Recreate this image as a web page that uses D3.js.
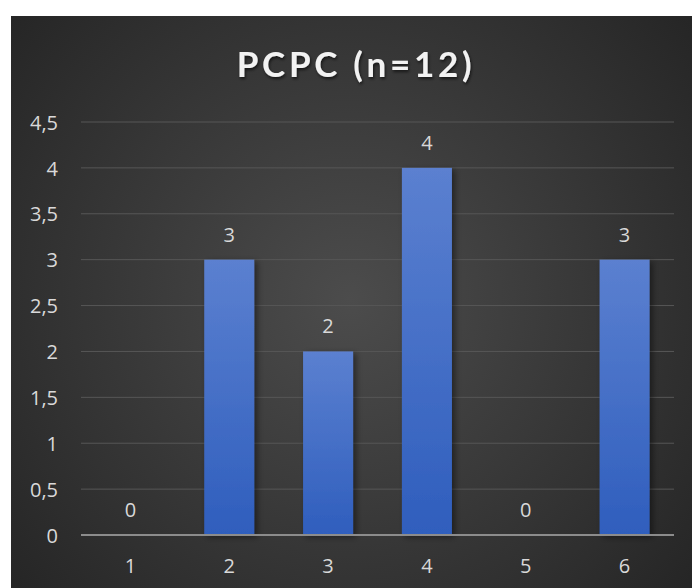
<!DOCTYPE html>
<html>
<head>
<meta charset="utf-8">
<script src="https://cdn.jsdelivr.net/npm/d3@7/dist/d3.min.js"></script>
<style>
  html, body { margin: 0; padding: 0; background: #ffffff; }
  svg { display: block; }
</style>
</head>
<body>
<svg id="chart" width="692" height="588"></svg>
<script>
// Chart data
const categories = ["1", "2", "3", "4", "5", "6"];
const values = [0, 3, 2, 4, 0, 3];
const yTicks = [0, 0.5, 1, 1.5, 2, 2.5, 3, 3.5, 4, 4.5];
const titleText = "PCPC (n=12)";

const W = 692, H = 588;
const panel = { x: 11, y: 16, w: W - 11, h: H - 16 };
const plot = { left: 81, right: 674, top: 122, bottom: 535 };

const svg = d3.select("#chart");
const defs = svg.append("defs");

// Dark radial background
const bg = defs.append("radialGradient")
  .attr("id", "bgGrad")
  .attr("gradientUnits", "userSpaceOnUse")
  .attr("cx", 350).attr("cy", 300).attr("r", 440);
bg.append("stop").attr("offset", "0%").attr("stop-color", "#4c4c4c");
bg.append("stop").attr("offset", "100%").attr("stop-color", "#262626");

// Bar fill: lighter at top, deeper blue at bottom
const barGrad = defs.append("linearGradient")
  .attr("id", "barGrad")
  .attr("x1", 0).attr("y1", 0).attr("x2", 0).attr("y2", 1);
barGrad.append("stop").attr("offset", "0%").attr("stop-color", "#5b80d0");
barGrad.append("stop").attr("offset", "100%").attr("stop-color", "#2f5ebd");

const shadow = defs.append("filter").attr("id", "barShadow")
  .attr("x", "-20%").attr("y", "-10%").attr("width", "150%").attr("height", "130%");
shadow.append("feDropShadow")
  .attr("dx", 3).attr("dy", 2).attr("stdDeviation", 3)
  .attr("flood-color", "#000").attr("flood-opacity", 0.45);

const titleShadow = defs.append("filter").attr("id", "titleShadow")
  .attr("x", "-10%").attr("y", "-20%").attr("width", "120%").attr("height", "150%");
titleShadow.append("feDropShadow")
  .attr("dx", 1).attr("dy", 2).attr("stdDeviation", 1.5)
  .attr("flood-color", "#000").attr("flood-opacity", 0.6);

svg.append("rect")
  .attr("x", panel.x).attr("y", panel.y)
  .attr("width", panel.w).attr("height", panel.h)
  .attr("fill", "url(#bgGrad)");

// Scales
const x = d3.scaleBand()
  .domain(categories)
  .range([plot.left, plot.right])
  .paddingInner(0.494)
  .paddingOuter(0.247);

const y = d3.scaleLinear()
  .domain([0, 4.5])
  .range([plot.bottom, plot.top]);

const fmt = d => String(d).replace(".", ",");
const font = "'Open Sans', 'Noto Sans', sans-serif";
const labelColor = "#d9d9d9";
const styleLabel = sel => sel
  .attr("fill", labelColor)
  .style("font-family", font)
  .style("font-size", "20px");

// Gridlines
svg.append("g")
  .selectAll("line")
  .data(yTicks.filter(d => d > 0))
  .join("line")
  .attr("x1", plot.left).attr("x2", plot.right)
  .attr("y1", d => y(d)).attr("y2", d => y(d))
  .attr("stroke", "#575757").attr("stroke-width", 1);

// Y axis labels
const yAxis = d3.axisLeft(y).tickValues(yTicks).tickFormat(fmt).tickSize(0).tickPadding(0);
const gy = svg.append("g")
  .attr("transform", `translate(58,0)`)
  .call(yAxis);
gy.select(".domain").remove();
gy.selectAll("text").call(styleLabel).attr("dy", "0.36em");

// Bars
svg.append("g")
  .selectAll("rect")
  .data(values)
  .join("rect")
  .attr("x", (d, i) => x(categories[i]))
  .attr("y", d => y(d))
  .attr("width", x.bandwidth())
  .attr("height", d => y(0) - y(d))
  .attr("fill", "url(#barGrad)")
  .attr("filter", "url(#barShadow)");

// Baseline
svg.append("line")
  .attr("x1", plot.left).attr("x2", plot.right)
  .attr("y1", y(0)).attr("y2", y(0))
  .attr("stroke", "#8c8c8c").attr("stroke-width", 2);

// X axis labels
const xAxis = d3.axisBottom(x).tickSize(0).tickPadding(0);
const gx = svg.append("g")
  .attr("transform", `translate(0,${plot.bottom + 38})`)
  .call(xAxis);
gx.select(".domain").remove();
gx.selectAll("text").call(styleLabel).attr("dy", 0).attr("y", 0);

// Value labels
svg.append("g")
  .selectAll("text")
  .data(values)
  .join("text")
  .attr("x", (d, i) => x(categories[i]) + x.bandwidth() / 2)
  .attr("y", d => y(d) - 18)
  .attr("text-anchor", "middle")
  .call(styleLabel)
  .text(d => fmt(d));

// Title
const title = svg.append("text")
  .attr("x", 356)
  .attr("y", 77)
  .attr("text-anchor", "middle")
  .attr("fill", "#f2f2f2")
  .attr("filter", "url(#titleShadow)")
  .style("font-family", "Lato, 'Open Sans', sans-serif")
  .style("font-weight", "bold")
  .style("font-size", "35px")
  .text(titleText);
// Spread the title letters to its intended width
const natural = title.node().getComputedTextLength();
const targetWidth = 235;
title.style("letter-spacing", `${Math.max(0, (targetWidth - natural) / (titleText.length - 1))}px`);
</script>
</body>
</html>
